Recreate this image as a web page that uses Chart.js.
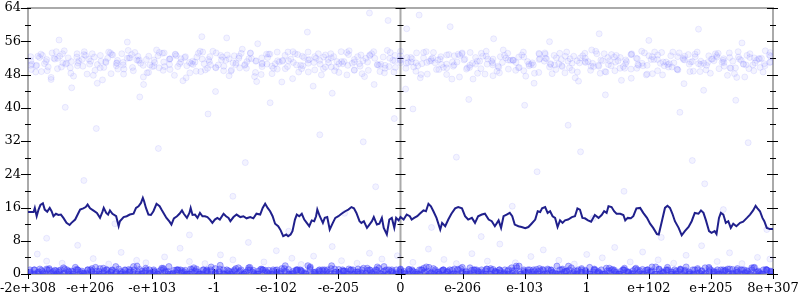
<!DOCTYPE html>
<html>
<head>
<meta charset="utf-8">
<script src="https://cdn.jsdelivr.net/npm/chart.js@4/dist/chart.umd.min.js"></script>
<style>
html,body{margin:0;padding:0;background:#fff}
</style>
</head>
<body>
<canvas id="myChart" width="800" height="300"></canvas>
<script>

const xLabels =
["-2e+308","-e+206","-e+103","-1","-e-102","-e-205","0","e-206","e-103","1","e+102","e+205","8e+307"]

const yMax = 64

// running average, [x, y]
const avgLine = [
[0,14.9],[0.09,14.9],[0.11,15.9],[0.14,13.9],[0.17,15.5],[0.2,16.6],[0.24,17.0],[0.27,15.5],[0.31,15.0],[0.35,15.9],
[0.38,15.1],[0.41,13.9],[0.45,14.5],[0.49,14.2],[0.53,14.3],[0.57,13.5],[0.62,12.3],[0.67,11.8],[0.7,12.3],[0.76,13.1],
[0.8,14.3],[0.84,15.5],[0.89,15.8],[0.93,16.1],[0.96,16.7],[1.0,15.8],[1.05,15.3],[1.11,14.7],[1.16,13.5],[1.2,15.0],
[1.22,15.9],[1.26,14.7],[1.29,14.3],[1.32,15.3],[1.36,14.5],[1.42,13.9],[1.46,11.5],[1.48,12.7],[1.54,13.7],[1.59,13.9],
[1.64,14.3],[1.7,14.5],[1.74,15.9],[1.78,16.3],[1.82,17.1],[1.85,18.3],[1.87,17.5],[1.9,15.9],[1.94,14.3],[1.98,14.2],
[2.02,15.1],[2.07,16.9],[2.12,16.3],[2.15,15.5],[2.19,14.5],[2.23,13.5],[2.28,12.6],[2.31,11.9],[2.35,13.4],[2.4,13.9],
[2.44,14.5],[2.48,15.3],[2.51,14.5],[2.56,13.5],[2.6,14.7],[2.62,15.9],[2.65,14.2],[2.69,14.3],[2.73,13.5],[2.77,14.7],
[2.81,13.9],[2.85,13.9],[2.89,13.7],[2.93,13.1],[2.97,12.3],[3.01,13.1],[3.05,13.5],[3.09,13.1],
[3.15,14.5],[3.19,13.9],[3.23,13.5],[3.26,12.7],[3.31,13.7],[3.36,14.3],[3.42,13.7],[3.47,13.9],[3.52,13.4],[3.58,13.7],
[3.63,13.4],[3.68,14.5],[3.74,14.3],[3.78,15.9],[3.82,16.9],[3.86,15.9],[3.9,15.1],[3.94,13.9],[3.98,12.1],[4.03,11.5],
[4.07,10.5],[4.11,9.1],[4.16,9.5],[4.19,9.1],[4.23,9.5],[4.26,10.3],[4.3,13.1],[4.33,14.3],[4.37,13.9],[4.41,14.5],
[4.45,13.1],[4.49,12.3],[4.53,11.5],[4.57,12.9],[4.61,12.7],[4.64,13.9],[4.66,15.5],[4.7,13.9],[4.75,12.3],[4.78,13.5],
[4.82,13.7],[4.86,10.7],[4.91,12.3],[4.95,13.5],[5.0,13.9],[5.05,14.5],[5.11,15.1],[5.16,15.5],[5.21,16.1],[5.25,15.8],
[5.29,14.7],[5.34,12.7],[5.37,12.3],[5.41,12.7],[5.46,11.1],[5.5,11.9],[5.54,12.7],[5.57,13.7],[5.62,11.9],[5.66,12.1],
[5.7,13.5],[5.73,11.1],[5.78,9.5],[5.82,13.1],[5.86,13.5],[5.9,11.1],[5.93,13.5],[5.97,12.9],[6.0,13.7],[6.05,13.1],
[6.1,14.3],[6.15,13.9],
[6.18,13.1],[6.22,13.5],[6.27,13.9],[6.31,14.5],[6.37,15.3],[6.41,15.1],[6.45,16.9],[6.49,16.3],[6.53,15.1],[6.58,13.5],
[6.64,10.7],[6.67,12.3],[6.72,11.5],[6.77,13.1],[6.82,14.5],[6.88,15.8],[6.93,16.1],[6.99,15.8],[7.04,13.9],[7.09,13.1],
[7.15,13.5],[7.2,12.3],[7.25,13.9],[7.31,14.3],[7.36,14.5],[7.42,13.1],[7.47,12.7],[7.52,11.5],[7.58,12.9],[7.62,11.1],
[7.66,13.9],[7.71,14.3],[7.76,14.7],[7.8,13.9],[7.84,11.9],[7.9,11.5],[7.95,11.3],[8.01,11.0],[8.06,11.3],[8.11,12.1],
[8.17,13.1],[8.21,15.1],[8.25,14.9],[8.28,15.8],[8.33,16.1],[8.37,14.7],[8.41,15.1],[8.45,13.9],[8.49,13.5],[8.53,11.3],
[8.57,12.9],[8.61,12.3],[8.65,12.9],[8.7,13.1],[8.76,13.7],[8.81,13.9],[8.85,15.8],[8.89,15.5],[8.93,13.5],[8.97,13.4],
[9.02,12.9],[9.07,12.6],[9.13,14.2],
[9.19,13.5],[9.24,14.2],[9.28,15.1],[9.32,14.7],[9.35,16.3],[9.4,16.1],[9.44,15.1],[9.48,14.5],[9.54,14.5],[9.59,14.2],
[9.62,12.9],[9.66,13.5],[9.71,13.4],[9.75,13.9],[9.8,15.8],[9.86,15.9],[9.91,14.7],[9.97,13.5],[10.02,12.1],[10.07,11.1],
[10.13,9.6],[10.16,9.5],[10.21,12.7],[10.26,15.9],[10.3,16.4],[10.34,15.9],[10.38,14.5],[10.42,12.7],[10.48,11.1],[10.53,9.3],
[10.58,10.3],[10.64,11.3],[10.69,12.7],[10.74,14.7],[10.8,14.5],[10.84,15.3],[10.88,14.7],[10.92,12.9],[10.97,10.3],[11.01,9.9],
[11.06,10.3],[11.09,9.6],[11.13,13.5],[11.16,14.7],[11.2,14.3],[11.24,12.3],[11.28,12.7],[11.32,11.1],[11.36,12.1],[11.41,11.5],
[11.47,12.3],[11.52,12.6],[11.58,13.5],[11.63,14.3],[11.68,15.3],[11.72,16.4],[11.75,15.8],[11.79,15.1],[11.83,13.5],[11.86,12.7],
[11.9,11.1],[11.95,10.8],[12,10.8]
]

// upper cloud, y values spread evenly along x
const cloudA = [50.5,52.1,48.9,51.7,53.0,49.6,50.8,52.6,47.8,51.2,53.4,50.1,49.3,52.8,51.5,48.4,50.9,53.1,51.8,49.9,52.3,50.4,48.7,51.6,53.2,50.0,49.1,52.4,51.1,47.5,50.7,52.9,51.3,49.4,53.5,50.2,48.6,51.9,52.2,49.8,50.6,53.3,51.0,48.2,52.7,50.3,49.5,51.4,53.6,50.9,48.8,52.0,51.7,49.2,50.5,52.5,53.0,49.7,51.2,48.1,50.8,52.3,51.5,49.0,53.4,50.4,48.5,51.8,52.6,50.1,49.6,51.3,53.1,50.7,48.3,52.1,51.0,49.9,52.8,50.2,47.9,51.6,53.3,50.6,49.3,52.4,51.1,48.7,50.9,53.0,51.4,49.5,52.2,50.3,48.9,51.9,52.7]
const cloudB = [49.2,52.4,50.6,46.8,51.9,53.7,48.3,50.1,52.8,51.2,45.9,49.7,53.2,50.8,48.1,52.0,51.5,47.4,50.3,53.9,49.0,51.7,52.5,46.5,50.9,48.8,53.4,51.1,49.6,52.2,47.7,50.4,54.1,51.8,48.5,49.9,52.9,50.6,46.2,51.3,53.0,49.4,50.7,52.3,47.9,51.6,48.9,53.5,50.2,49.1,52.7,51.0,45.6,50.5,53.8,48.6,51.4,52.1,49.8,47.2,50.9,53.3,51.7,48.0,50.0,52.6,49.3,46.9,51.2,53.6,50.3,48.4,52.0,51.5,49.7,47.6,50.8,53.1,51.9,48.2,50.6,52.4,49.0,46.4,51.1,53.9,50.2,48.7,52.8,51.3,49.5,47.1,50.4,53.2,51.6,48.9,50.1,52.5,49.2,45.8,51.0,53.4,50.7,48.3,52.2,51.8,49.6,47.3,50.5,53.0,51.4,48.6,50.9]
const cloudC = [51.3,50.2,52.6,49.8,51.9,52.4,50.5,51.1,53.0,50.0,51.7,52.2,49.6,50.9,52.8,51.4,50.3,52.0,53.3,50.7,51.6,49.9,52.5,51.0,50.4,52.9,51.8,50.1,51.2,53.1,50.6,52.3,49.7,51.5,52.7,50.8,51.9,50.2,53.2,51.3,50.5,52.1,49.5,51.0,52.6,51.7,50.3,52.4,53.4,50.9,51.4,49.8,52.0,51.1,50.6,52.8,51.6,50.0,51.9,53.0,50.4,52.2,49.9,51.3,52.5,50.7,51.8,50.1,53.3,51.2,50.8,52.3,49.6,51.0,52.9,51.5,50.2,52.1,53.1,50.5,51.7,49.7,52.6,51.4,50.9,52.7,51.1,50.3,51.6,53.2,50.6,52.0,49.9,51.2,52.4,50.8,51.9,50.0,53.0,51.3,50.4,52.2,49.5,51.5,52.8,51.8,50.1,52.5,53.4,50.7,51.0,49.8,52.3,51.6,50.5,52.9,51.2,50.2,51.7,53.1,50.9,52.1,49.6,51.4,52.6,50.3,51.8,50.6,53.3]
const cloudD = [50.2,48.6,52.9,51.1,47.3,53.5,49.8,50.7,44.8,52.2,51.6,48.1,53.0,50.4,46.7,51.9,52.7,49.3,50.9,53.8,48.9,51.3,45.6,52.4,50.0,49.6,53.2,51.7,47.8,50.6,52.1,48.4,51.0,53.6,49.1,50.3,43.9,52.6,51.4,48.8,50.8,53.1,49.5,51.8,46.3,52.0,50.5,48.2,53.4,51.2,49.9,47.0,52.8,50.1,51.5,45.2,53.0,49.4,50.9,52.3,48.5,51.1,53.7,49.0,50.6,47.5,52.5,51.9,48.7,50.2,53.3,49.7,51.6,44.5,52.1,50.8,48.0,53.5,51.3,49.2,50.4,52.7,46.9,51.0,53.2,49.6,50.7,48.3,52.4,51.7,47.7,50.0,53.9,49.3,51.4,52.2,48.9,50.5,45.9,52.9,51.2,49.8,50.3,53.1,48.4,51.8,47.2,52.0,50.9,49.0,53.6,51.5,48.6,50.1,52.6,46.6,51.1,53.0,49.5,50.7,48.1,52.3,51.6,47.9,50.4,53.4,49.1,51.9,52.8,48.8,50.6,44.2,52.5,51.3,49.4,50.0,53.2,48.2,51.7,47.4,52.1,50.8,49.7,53.7,51.0]
const cloudE = [52.3,50.1,48.7,51.6,53.2,49.4,50.8,52.0,47.6,51.3,53.5,50.5,49.0,52.6,51.1,48.2,50.7,53.0,51.9,49.7,52.4,50.2,48.5,51.5,53.3,49.9,49.2,52.8,51.0,47.2,50.6,52.2,51.7,49.5,53.6,50.3,48.9,51.8,52.5,49.6,50.4,53.1,51.2,48.0,52.9,50.0,49.3,51.4,53.4,50.9,48.6,52.1,51.6,49.1,50.5,52.7,53.0,49.8,51.1,47.9,50.7,52.3,51.3,49.0,53.5,50.2,48.4,51.9,52.6,50.8,49.5,51.0,53.2,50.6,48.1,52.0,51.5,49.7,52.8,50.3,47.4,51.7,53.3,50.5,49.4,52.4,51.2,48.8,50.9,53.1,51.4,49.6,52.2,50.1,48.3,51.8,52.9,50.4,49.2,51.6,53.4,50.7,48.6,52.5,51.1,49.9,50.0,53.0,51.3,48.9,52.1,50.6,49.3,51.9,53.6,50.2,48.2,52.7,51.0,49.8,50.8,53.2,51.5,48.7,52.3,50.4,49.1,51.7,52.6,50.9,47.8,51.2,53.5,50.5,49.4,52.0,51.8,50.1,52.4]

// bottom band, y values spread evenly along x
const bandA = [0,1,0.5,0,1,0.3,0.8,0,1.2,0.5,0,1,0.7,0.2,1,0,0.6,1.4,0,0.9,0.4,0,1,0.5,1.8,0,0.7,1,0.2,0.5,0,1.1,0.6,0,1,0.3,0.9,0,1.5,0.4,0,1,0.6,0.1,1.2,0,0.8,0.5,0,1,0.3,1.6,0,0.7,1,0.4,0,0.9,0.2,1.3,0,0.6,1,0.5,0,1.1,0.3,0.8,0,1,2,0.4,0,0.7,1.2,0,0.5,1,0.2,0.9,0,1.4,0.6,0,1,0.3,0.8,0,1.1,0.5,0,1,1.7,0.2,0.6,0,1,0.4,0.9,0,1.3,0.5,0,1,0.7,0.1,1.2,0,0.6,1,0.3,0,0.8,1.5,0,0.4,1,0.6,0,1.1,0.2,0.9,0,1,0.5,1.9,0,0.7,1,0.3,0,1.2,0.6,0,0.8,1,0.4,0,1.4,0.5,0.1,1,0,0.9,0.6,0,1.1,0.3,1.6,0,0.7,1,0.2,0.5,0,1.3,0.8,0,1,0.4,0,0.6,1.2,0,0.9,1,0.3,0,1.5,0.5,0,1,0.7]
const bandB = [0.5,0,1.2,0.3,1,0,0.8,1.5,0,0.6,1,0.2,0,1.3,0.7,0,1,0.4,1.8,0,0.9,0.5,0,1.1,0.3,0,1,0.6,1.4,0,0.2,1,0.8,0,0.5,1.2,0,0.7,1,0.3,2.1,0,0.6,1,0.4,0,1.5,0.9,0,1,0.2,0.6,0,1.3,0.5,0,1,0.8,0.3,1.7,0,0.6,1,0.4,0,1.1,0.7,0,1,0.5,0,1.4,0.3,0.9,0,1,0.6,0,1.2,0.2,0.8,0,1,0.5,1.6,0,0.4,1,0.7,0,1.1,0.3,0,0.9,1,0.5,0,1.3,0.6,0.2,1,0,0.8,1.9,0,0.4,1,0.6,0,1.2,0.3,0,1,0.7,1.5,0,0.5,0.9,0,1,0.2,0,1.4,0.6,0,1,0.4,0.8,0,1.1,0.3,1.7,0,0.6,1,0.5,0,1.2,0.9,0,1,0.3,0,1.6,0.7,0,1,0.4,0.2,1.3,0,0.8,1,0.5,0,1.1,0.6]
const bandC = [1,0,0.4,0.9,0,1.3,0.6,0,1,0.2,0.7,0,1.1,0.5,0,1,0.8,1.6,0,0.3,1,0.6,0,1.2,0.4,0,0.9,1,0.5,0,1.4,0.2,0.7,0,1,0.6,1.8,0,0.3,1,0.5,0,1.1,0.8,0,1,0.4,0,1.3,0.6,0.1,1,0,0.7,1.5,0,0.5,1,0.3,0,1.2,0.9,0,1,0.4,0,0.6,1.1,0,0.8,1,0.2,2,0,0.5,1,0.7,0,1.3,0.4,0,1,0.6,0.9,0,1.2,0.3,0,1,0.5,1.7,0,0.8,1,0.2,0,1.1,0.6,0,1,0.4,0,1.4,0.7,0.3,1,0,0.9,0.5,0,1.2,1,0.6,0,1.5,0.3,0,1,0.8,0,1.1,0.4,0.6,0,1,0.2,1.9,0,0.7,1,0.5,0,1.3,0.9,0,1,0.3,0,1.2,0.6,0,0.8,1,0.4,0,1.6,0.5,0.2,1,0,0.7,1.1,0,0.6,1,0.3,0,1.4,0.8,0,1,0.5,0,1.2,0.4,0.9,0,1,0.6,0,1.7,0.3,0,1,0.7,0.2,1.3,0,0.5,1,0.8,0,1.1,0.4,0,1,0.6,1.5,0,0.3,1,0.9,0]
const bandD = [0.3,1,0,0.6,1.2,0,0.9,0.4,0,1,0.7,1.6,0,0.2,1,0.5,0,1.3,0.8,0,1,0.3,0.6,0,1.1,0.4,1.9,0,0.7,1,0.2,0,1.4,0.5,0,0.9,1,0.3,0,1.2,0.6,0,1,0.8,1.7,0,0.4,1,0.1,0,1.3,0.7,0,1,0.5,0,1.1,0.3,0.9,0,1,0.6,2,0,0.2,1,0.8,0,1.5,0.4,0,1,0.6,0,1.2,0.3,0.7,0,1,0.5,0,1.4,0.9,0,1,0.2,1.8,0,0.6,1,0.4,0,1.1,0.7,0,1,0.3,0,1.3,0.5,0.8,0,1,0.1,0,1.6,0.6,0,1,0.4,0,1.2,0.9,0.3,1,0,0.7,1.5,0,0.5,1,0.2,0,1.1,0.8,0,1,0.4,1.9,0,0.6,1,0.3,0,1.3,0.7,0,1,0.5,0,1.4,0.2,0.9,0,1,0.6,0,1.2,0.4,0,1,0.8,1.7,0,0.3,1,0.5,0,1.1,0.7,0,1,0.2,0,1.5,0.6,0.4,1,0,0.9,1.2,0,0.5,1,0.3,0,1.6,0.7,0,1,0.4]

// sparse points, [x, y]
const lowPts = [[0.15,4.8],[0.3,3.1],[0.55,2.6],[0.8,6.9],[1.05,3.7],[1.3,2.4],[1.5,5.2],[1.75,3.3],[1.9,2.7],[2.2,4.1],[2.45,6.2],[2.6,3.0],[2.85,2.5],[3.1,4.6],[3.3,3.4],[3.55,7.6],[3.8,2.9],[4.0,5.6],[4.25,3.8],[4.4,2.3],[4.6,4.3],[4.9,6.6],[5.05,3.2],[5.3,2.6],[5.5,5.0],[5.7,3.6],[5.95,4.4],[6.2,2.8],[6.45,6.0],[6.7,3.5],[6.9,2.5],[7.15,4.9],[7.4,3.1],[7.6,7.2],[7.85,2.7],[8.1,4.2],[8.3,5.8],[8.55,3.3],[8.8,2.4],[9.0,4.7],[9.25,3.9],[9.45,6.4],[9.7,2.9],[9.9,5.3],[10.15,3.4],[10.4,2.6],[10.6,4.5],[10.85,6.8],[11.1,3.0],[11.3,5.1],[11.5,2.5],[11.75,4.0],[11.95,3.6]]
const midPts = [[0.3,8.6],[0.9,22.5],[1.4,12.1],[2.1,30.2],[2.6,9.4],[3.3,18.7],[3.5,26.8],[4.2,10.3],[4.7,33.5],[5.1,14.6],[5.6,21.0],[5.9,37.4],[6.5,11.2],[6.9,28.1],[7.3,9.0],[7.8,16.3],[8.2,24.6],[8.7,35.8],[9.1,13.4],[9.6,19.9],[10.2,8.8],[10.7,27.3],[11.2,15.5],[11.6,31.6],[11.9,10.7],[0.6,40.1],[1.8,42.6],[2.9,38.5],[3.9,41.2],[4.9,43.5],[6.2,39.7],[7.1,42.0],[8.0,40.6],[9.3,43.1],[10.5,38.9],[11.4,41.8],[1.1,35.0],[5.4,31.8],[8.9,29.4],[10.9,21.7]]
const highPts = [[0.5,56.3],[1.6,55.8],[2.8,57.1],[3.7,55.4],[4.5,58.2],[5.8,61.0],[6.3,62.3],[6.8,59.5],[7.5,56.6],[8.4,55.9],[9.2,57.8],[10.0,56.2],[10.8,58.9],[11.5,55.6],[5.5,62.8],[6.1,59.0],[3.2,56.8]]

const xMax = xLabels.length - 1

function spread(ys){
return ys.map((y,i)=>({x:(i+0.5)*xMax/ys.length, y:y}))
}

function pairs(list){
return list.map(p=>({x:p[0], y:p[1]}))
}

function cloudSet(points, fill, edge){
return {
data:points,
showLine:false,
pointRadius:3,
pointHoverRadius:3,
pointBackgroundColor:fill,
pointBorderColor:edge,
pointBorderWidth:1
}
}

const faintFill = "rgba(90,90,255,0.07)"
const faintEdge = "rgba(90,90,255,0.11)"
const bandFill = "rgba(60,60,250,0.30)"
const bandEdge = "rgba(60,60,250,0.40)"

const axisMarks = {
id:"axisMarks",
beforeDatasetsDraw(chart){
const {ctx, chartArea:a, scales:{x, y}} = chart
const xm = x.getPixelForValue(xMax/2)
ctx.save()
ctx.strokeStyle = "#aaaaaa"
ctx.lineWidth = 2
ctx.beginPath()
ctx.moveTo(a.left, a.bottom)
ctx.lineTo(a.left, a.top)
ctx.lineTo(a.right, a.top)
ctx.lineTo(a.right, a.bottom)
ctx.lineTo(a.left, a.bottom)
ctx.moveTo(xm, a.top)
ctx.lineTo(xm, a.bottom)
ctx.stroke()

ctx.strokeStyle = "#000"
ctx.lineWidth = 1
ctx.beginPath()
const posts = [[a.left,7,3],[xm,5,5],[a.right,6,5]]
for(let v=0; v<=yMax; v+=4){
const py = Math.round(y.getPixelForValue(v)) + 0.5
const major = v % 8 === 0
posts.forEach(([px,l,r])=>{
ctx.moveTo(px - (major ? l : 3), py)
ctx.lineTo(px + (major ? r : 3), py)
})
}
xLabels.forEach((lab,i)=>{
const px = Math.round(x.getPixelForValue(i)) + 0.5
ctx.moveTo(px, a.bottom - 5)
ctx.lineTo(px, a.bottom + 5)
})
ctx.stroke()
ctx.restore()
}
}

const tickFont = {family:"'DejaVu Serif', serif", size:13}

new Chart(
document.getElementById("myChart"),
{
type:"scatter",
data:{
datasets:[
{
data:pairs(avgLine),
showLine:true,
borderColor:"#20208c",
borderWidth:2,
pointRadius:0,
pointHoverRadius:0,
tension:0
},
cloudSet(spread(bandA), bandFill, bandEdge),
cloudSet(spread(bandB), bandFill, bandEdge),
cloudSet(spread(bandC), bandFill, bandEdge),
cloudSet(spread(bandD), bandFill, bandEdge),
cloudSet(pairs(lowPts), faintFill, faintEdge),
cloudSet(pairs(midPts), faintFill, faintEdge),
cloudSet(pairs(highPts), faintFill, faintEdge),
cloudSet(spread(cloudA), faintFill, faintEdge),
cloudSet(spread(cloudB), faintFill, faintEdge),
cloudSet(spread(cloudC), faintFill, faintEdge),
cloudSet(spread(cloudD), faintFill, faintEdge),
cloudSet(spread(cloudE), faintFill, faintEdge)
]
},
options:{
responsive:false,
devicePixelRatio:1,
animation:false,
layout:{padding:{left:0, right:27, top:8, bottom:0}},
plugins:{legend:{display:false}, tooltip:{enabled:false}},
scales:{
x:{
type:"linear",
min:0,
max:xMax,
grid:{display:false, drawTicks:false},
border:{display:false},
afterBuildTicks(s){ s.ticks = xLabels.map((l,i)=>({value:i})) },
ticks:{
autoSkip:false,
maxRotation:0,
padding:7,
color:"#000",
font:tickFont,
callback:(v)=>xLabels[v]
},
afterFit(s){ s.height = 26; s.paddingLeft = 0; s.paddingRight = 0 }
},
y:{
min:0,
max:yMax,
grid:{display:false, drawTicks:false},
border:{display:false},
ticks:{
stepSize:8,
padding:7,
color:"#000",
font:tickFont
},
afterFit(s){ s.width = 28; s.paddingTop = 0; s.paddingBottom = 0 }
}
}
},
plugins:[axisMarks]
})

</script>
</body>
</html>
